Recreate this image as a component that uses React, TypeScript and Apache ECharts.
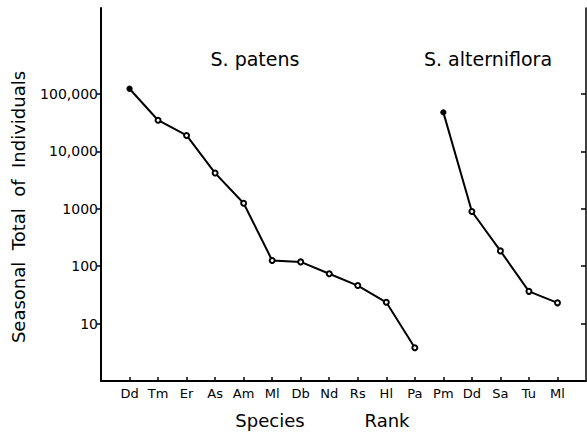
import React, { useEffect, useRef } from "react";
import * as echarts from "echarts";

const patensSpecies = ["Dd", "Tm", "Er", "As", "Am", "Ml", "Db", "Nd", "Rs", "Hl", "Pa"];
const patensValues = [124000, 35000, 19000, 4200, 1250, 126, 119, 74, 46, 23.5, 3.8];
const alternSpecies = ["Pm", "Dd", "Sa", "Tu", "Ml"];
const alternValues = [48000, 900, 185, 36.5, 23];
const yTicks = [10, 100, 1000, 10000, 100000];
const yTickLabels = ["10", "100", "1000", "10,000", "100,000"];
const titles = ["S. patens", "S. alterniflora"];

const FONT = "DejaVu Sans";

export default function App() {
  const ref = useRef<HTMLDivElement>(null);
  useEffect(() => {
    if (!ref.current) return;
    const chart = echarts.init(ref.current, null, { renderer: "svg" });
    const ranks = [...patensSpecies, ...alternSpecies];
    const yMax = Math.pow(10, 6.5);
    const mk = (vals: number[], offset: number) =>
      vals.map((v, i) => ({
        value: [offset + i, v],
        symbol: i === 0 ? "circle" : "emptyCircle",
      }));
    const seriesStyle = {
      type: "line" as const,
      symbolSize: 5,
      lineStyle: { color: "#000", width: 2 },
      itemStyle: { color: "#000", borderColor: "#000", borderWidth: 1.3 },
      silent: true,
    };
    const txt = (text: string, x: number, y: number, size: number, rot = 0) => ({
      type: "text",
      x,
      y,
      rotation: rot,
      style: {
        text,
        fill: "#000",
        font: `${size}px "${FONT}"`,
        textAlign: "center",
        textVerticalAlign: "middle",
      },
    });
    chart.setOption({
      animation: false,
      backgroundColor: "#fff",
      grid: { left: 101, right: 1, top: 8, bottom: 51 },
      xAxis: {
        type: "value",
        min: -1,
        max: 16,
        interval: 1,
        axisLine: { show: true, onZero: false, lineStyle: { color: "#000", width: 2 } },
        axisTick: {
          show: true,
          inside: true,
          length: 4,
          lineStyle: { color: "#000", width: 1.5 },
          customValues: ranks.map((_, i) => i),
        },
        axisLabel: {
          color: "#000",
          fontFamily: FONT,
          fontSize: 13,
          margin: 6,
          customValues: ranks.map((_, i) => i),
          formatter: (v: number) => ranks[v] ?? "",
        },
        splitLine: { show: false },
      },
      yAxis: [
        {
          type: "log",
          logBase: 10,
          min: 1,
          max: yMax,
          position: "left",
          axisLine: { show: true, onZero: false, lineStyle: { color: "#000", width: 2 } },
          axisTick: {
            show: true,
            length: 4,
            lineStyle: { color: "#000", width: 1.5 },
            customValues: yTicks,
          },
          axisLabel: {
            color: "#000",
            fontFamily: FONT,
            fontSize: 14,
            margin: 3,
            customValues: yTicks,
            formatter: (v: number) => {
              const idx = yTicks.findIndex((t) => Math.abs(t - v) / t < 1e-6);
              return idx >= 0 ? yTickLabels[idx] : "";
            },
          },
          splitLine: { show: false },
        },
        {
          type: "log",
          logBase: 10,
          min: 1,
          max: yMax,
          position: "right",
          axisLine: { show: true, onZero: false, lineStyle: { color: "#000", width: 1.5 } },
          axisTick: {
            show: true,
            inside: true,
            length: 5,
            lineStyle: { color: "#000", width: 1.5 },
            customValues: [...yTicks, yMax],
          },
          axisLabel: { show: false },
          splitLine: { show: false },
        },
      ],
      series: [
        { ...seriesStyle, name: titles[0], data: mk(patensValues, 0) },
        { ...seriesStyle, name: titles[1], data: mk(alternValues, patensSpecies.length) },
      ],
      graphic: [
        txt(titles[0], 255, 59, 19),
        txt(titles[1], 488, 59, 19),
        txt("Seasonal\u00a0\u00a0Total\u00a0\u00a0of\u00a0\u00a0Individuals", 18, 207, 18, Math.PI / 2),
        txt("Species", 270, 420, 18),
        txt("Rank", 387, 420, 18),
      ],
    });
    return () => chart.dispose();
  }, []);
  return (
    <div
      ref={ref}
      style={{ position: "fixed", left: 0, top: 0, width: 587, height: 432 }}
    />
  );
}
